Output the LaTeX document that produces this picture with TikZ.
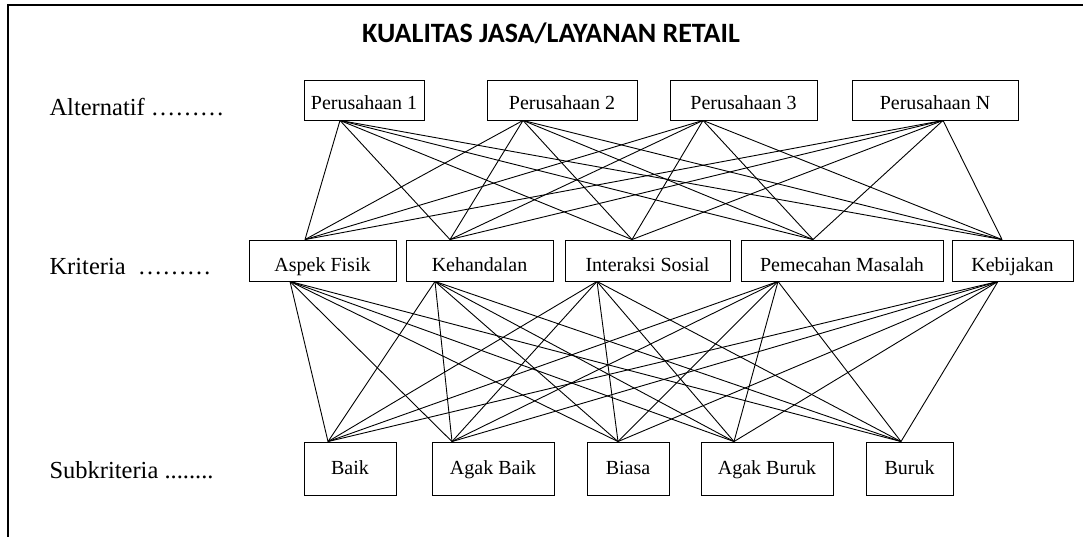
\documentclass[tikz,border=0pt]{standalone}
\usepackage{fontspec}
\setmainfont{Liberation Serif}
\newfontfamily\titlefont{Carlito}
\usepackage{tikz}
\usetikzlibrary{positioning}

\begin{document}
\begin{tikzpicture}[
            x=1pt, y=-1pt,
            box/.style={draw, rectangle, line width=0.9pt, inner sep=0pt,
                font=\fontsize{20}{24}\selectfont},
            alt/.style={box, minimum height=40pt, text height=20pt, text depth=0pt},
            krit/.style={box, minimum height=41pt, text height=21pt, text depth=0pt},
            sub/.style={box, minimum height=53pt, text height=13pt, text depth=2pt},
            lbl/.style={anchor=base west, font=\fontsize{24.5}{28}\selectfont},
            link/.style={line width=0.9pt},
        ]
            \useasboundingbox (0,0) rectangle (1083,537);
            \draw[line width=1.2pt] (8,537) -- (8,5) -- (1083,5);

            \node[anchor=base, font=\titlefont\bfseries\fontsize{28}{32}\selectfont] (title) at (551,43) {KUALITAS JASA/LAYANAN RETAIL};

            \node[lbl] (lalt) at (46,116) {Alternatif ………};
            \node[lbl] (lkrit) at (46,274) {Kriteria\ \ ………};
            \node[lbl] (lsub) at (46,478) {Subkriteria ........};

            \node[alt, minimum width=120pt] (p1) at (364,100) {Perusahaan 1};
            \node[alt, minimum width=150pt] (p2) at (562,100) {Perusahaan 2};
            \node[alt, minimum width=147pt] (p3) at (743.5,100) {Perusahaan 3};
            \node[alt, minimum width=166pt] (pn) at (935,100) {Perusahaan N};

            \node[krit, minimum width=147pt] (af) at (322.5,260.5) {Aspek Fisik};
            \node[krit, minimum width=147pt] (kh) at (479.5,260.5) {Kehandalan};
            \node[krit, minimum width=165pt] (is) at (647.5,260.5) {Interaksi Sosial};
            \node[krit, minimum width=202pt] (pm) at (842,260.5) {Pemecahan Masalah};
            \node[krit, minimum width=121pt] (kb) at (1012.5,260.5) {Kebijakan};

            \node[sub, minimum width=92pt] (baik) at (350,468.5) {Baik};
            \node[sub, minimum width=122pt] (abaik) at (493,468.5) {Agak Baik};
            \node[sub, minimum width=82pt] (biasa) at (628,468.5) {Biasa};
            \node[sub, minimum width=132pt] (aburuk) at (767,468.5) {Agak Buruk};
            \node[sub, minimum width=87pt] (buruk) at (909.5,468.5) {Buruk};

            \foreach \a/\ao in {p1/-24, p2/-39, p3/-40.5, pn/8}
                \foreach \k/\kt in {af/-17.5, kh/-29.5, is/-15.5, pm/-29, kb/-10.5}
                    \draw[link] ([xshift=\ao]\a.south) -- ([xshift=\kt]\k.north);

            \foreach \k/\kb in {af/-32.5, kh/-44.5, is/-50.5, pm/-64, kb/-14.5}
                \foreach \s/\st in {baik/-22, abaik/-41, biasa/-10, aburuk/-33, buruk/-8.5}
                    \draw[link] ([xshift=\kb]\k.south) -- ([xshift=\st]\s.north);
        \end{tikzpicture}
\end{document}
